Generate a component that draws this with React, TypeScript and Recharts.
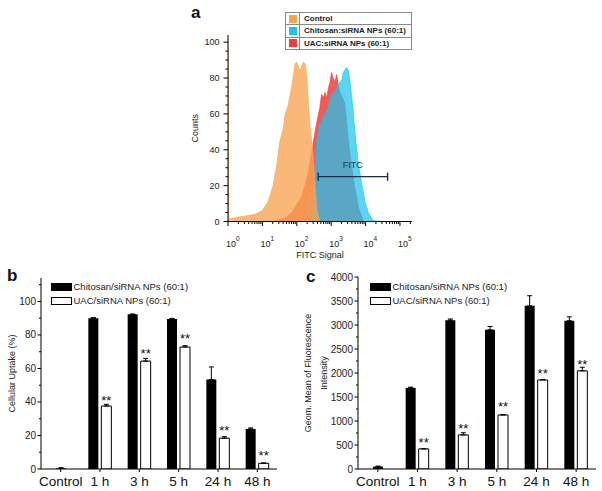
import {
  Area,
  AreaChart,
  Bar,
  BarChart,
  ErrorBar,
  Label,
  LabelList,
  Legend,
  ReferenceLine,
  XAxis,
  YAxis
} from 'recharts';

const FONT = 'Arial, "Liberation Sans", sans-serif';

// ---- panel a: FITC histograms, x in log10(FITC signal), y in counts
const histNames = ['Control', 'Chitosan:siRNA NPs (60:1)', 'UAC:siRNA NPs (60:1)'];
const histColors = ['#f7a452', '#1ec4ef', '#ee3e3e'];

const controlLog = [0, 0.02, 0.15, 0.49, 0.78, 0.99, 1.16, 1.31, 1.42, 1.51, 1.61, 1.66, 1.74, 1.85, 1.95, 2.0, 2.09, 2.19, 2.24, 2.29, 2.33, 2.38, 2.47, 2.53, 2.59, 2.67];
const controlCounts = [110, 1.5, 2, 3, 4, 6, 11, 20, 32, 45, 52, 60, 64, 75, 88, 89, 84, 89, 88, 82, 69, 54, 39, 21, 6, 0];

const chitosanLog = [2.43, 2.47, 2.53, 2.58, 2.67, 2.82, 2.92, 3.01, 3.11, 3.21, 3.31, 3.35, 3.45, 3.5, 3.55, 3.64, 3.69, 3.79, 3.89, 3.98, 4.08, 4.22, 4.47];
const chitosanCounts = [0, 11.7, 30, 45, 54, 60, 63.5, 71, 72, 76.6, 79, 83, 86, 84, 78, 62, 50, 32, 21, 11.7, 5, 0.5, 0];

const uacLog = [1.37, 1.66, 1.85, 2.14, 2.33, 2.53, 2.63, 2.67, 2.72, 2.77, 2.82, 2.87, 2.92, 2.97, 3.01, 3.06, 3.11, 3.16, 3.21, 3.26, 3.35, 3.4, 3.5, 3.6, 3.69, 3.79, 3.93, 4.0];
const uacCounts = [0, 2, 5, 13.5, 26.7, 50, 60, 63.5, 71, 69, 72, 69, 74.6, 78, 83, 80, 78, 82, 75, 72, 68, 65.6, 45, 30, 19, 8, 0.5, 0];

const fitcGate = [2.62, 4.64];
const fitcGateCount = 25;

const countTicks = Array.from({ length: 21 }, (_, i) => i * 5);
const logTicks: number[] = [];
for (let d = 0; d <= 5; d++) {
  logTicks.push(d);
  for (let k = 2; k <= 9; k++) {
    const v = d + Math.log10(k);
    if (v <= 5.35) logTicks.push(v);
  }
}

const toPoints = (xs: number[], ys: number[]) => xs.map((x, i) => ({ x, y: ys[i] }));
const controlHist = toPoints(controlLog, controlCounts);
const chitosanHist = toPoints(chitosanLog, chitosanCounts);
const uacHist = toPoints(uacLog, uacCounts);

// ---- panels b and c
const timepoints = ['Control', '1 h', '3 h', '5 h', '24 h', '48 h'];
const seriesNames = ['Chitosan/siRNA NPs (60:1)', 'UAC/siRNA NPs (60:1)'];

const controlUptake = [0.4, null, null, null, null, null];
const controlUptakeErr = [0.4, 0, 0, 0, 0, 0];
const chitosanUptake = [null, 90, 92.4, 89.6, 53.4, 23.9];
const chitosanUptakeErr = [0, 0.4, 0, 0.3, 7.5, 0.6];
const uacUptake = [null, 37.6, 64.4, 72.8, 18.4, 3.4];
const uacUptakeErr = [0, 1, 1.6, 0.8, 0.9, 0.2];

const controlMfi = [50, null, null, null, null, null];
const controlMfiErr = [10, 0, 0, 0, 0, 0];
const chitosanMfi = [null, 1690, 3100, 2900, 3400, 3090];
const chitosanMfiErr = [0, 15, 25, 70, 210, 80];
const uacMfi = [null, 420, 710, 1125, 1855, 2045];
const uacMfiErr = [0, 0, 45, 10, 10, 75];

const uptakeTicks = Array.from({ length: 12 }, (_, i) => i * 10);
const mfiTicks = Array.from({ length: 17 }, (_, i) => i * 250);

const uptakeRows = timepoints.map((cat, i) => ({
  cat,
  ctrl: controlUptake[i],
  ctrlErr: controlUptakeErr[i],
  chit: chitosanUptake[i],
  chitErr: chitosanUptakeErr[i],
  uac: uacUptake[i],
  uacErr: uacUptakeErr[i]
}));

const mfiRows = timepoints.map((cat, i) => ({
  cat,
  ctrl: controlMfi[i],
  ctrlErr: controlMfiErr[i],
  chit: chitosanMfi[i],
  chitErr: chitosanMfiErr[i],
  uac: uacMfi[i],
  uacErr: uacMfiErr[i]
}));

function LogTick({ x, y, payload }: any) {
  const v = payload.value;
  const major = Math.abs(v - Math.round(v)) < 1e-6;
  return (
    <g>
      <line x1={x} x2={x} y1={y} y2={y + (major ? 4.5 : 2.5)} stroke="#000" />
      {major && (
        <text x={x - 2} y={y + 25} fontSize={9} fill="#222" fontFamily={FONT}>
          10
          <tspan dy={-6} fontSize={6.5}>{Math.round(v)}</tspan>
        </text>
      )}
    </g>
  );
}

function CountTick({ x, y, payload }: any) {
  const major = payload.value % 20 === 0;
  return (
    <g>
      <line x1={x - (major ? 4.5 : 2.5)} x2={x} y1={y} y2={y} stroke="#000" />
      {major && (
        <text x={x - 8.5} y={y} dy={3.2} textAnchor="end" fontSize={9} fill="#222" fontFamily={FONT}>
          {payload.value}
        </text>
      )}
    </g>
  );
}

const makeValueTick = (step: number) =>
  function ValueTick({ x, y, payload }: any) {
    const major = payload.value % step === 0;
    return (
      <g>
        <line x1={x - (major ? 3.5 : 2)} x2={x} y1={y} y2={y} stroke="#000" />
        {major && (
          <text x={x - 5} y={y} dy={3.5} textAnchor="end" fontSize={10} fill="#222" fontFamily={FONT}>
            {payload.value}
          </text>
        )}
      </g>
    );
  };

const UptakeTick = makeValueTick(20);
const MfiTick = makeValueTick(500);

const makeStars = (errs: number[]) =>
  function Stars(props: any) {
    const vb = props.viewBox ?? props;
    const { x, y, width, height } = vb;
    const { value, index } = props;
    if (value == null || !value) return null;
    const pxPerUnit = Math.abs(height) / value;
    const top = y - (errs[index] ?? 0) * pxPerUnit;
    return (
      <text x={x + width / 2} y={top - 1.5} textAnchor="middle" fontSize={13} fill="#111" fontFamily={FONT}>
        **
      </text>
    );
  };

function HistLegend({ payload }: any) {
  const items = [...(payload ?? [])]
    .filter((e: any) => histNames.includes(e.value))
    .sort((a: any, b: any) => histNames.indexOf(a.value) - histNames.indexOf(b.value));
  return (
    <div style={{ width: 125, border: '1px solid #8a8a8a', background: '#fff', fontFamily: FONT, fontSize: 8, fontWeight: 700, color: '#222' }}>
      {items.map((e: any, i: number) => (
        <div key={e.value} style={{ display: 'flex', alignItems: 'center', height: 11.3, borderTop: i ? '1px solid #8a8a8a' : 'none' }}>
          <div style={{ width: 13, height: '100%', borderRight: '1px solid #8a8a8a', display: 'flex', alignItems: 'center', justifyContent: 'center' }}>
            <span style={{ width: 8, height: 8, background: histColors[histNames.indexOf(e.value)] }} />
          </div>
          <span style={{ paddingLeft: 4, whiteSpace: 'nowrap' }}>{e.value}</span>
        </div>
      ))}
    </div>
  );
}

function BarLegend({ payload }: any) {
  const items = (payload ?? []).filter((e: any) => seriesNames.includes(e.value));
  return (
    <div style={{ fontFamily: FONT, fontSize: 9.5, color: '#222' }}>
      {items.map((e: any) => (
        <div key={e.value} style={{ display: 'flex', alignItems: 'center', height: 14, whiteSpace: 'nowrap' }}>
          <span style={{ display: 'inline-block', width: 19, height: 6, background: e.color, border: '1px solid #000', marginRight: 1.5 }} />
          {e.value}
        </div>
      ))}
    </div>
  );
}

const letter = (left: number, top: number) => ({
  position: 'absolute' as const,
  left,
  top,
  fontFamily: FONT,
  fontWeight: 700,
  fontSize: 17,
  lineHeight: '20px',
  color: '#111'
});

function FlowPanel() {
  return (
    <AreaChart width={280} height={270} margin={{ top: 35, right: 18, left: 38, bottom: 11.5 }}>
      <XAxis
        type="number"
        dataKey="x"
        domain={[0, 5.35]}
        ticks={logTicks}
        interval={0}
        allowDataOverflow
        tick={<LogTick />}
        tickLine={false}
        tickSize={0}
        tickMargin={0}
        height={37}
        axisLine={{ stroke: '#000' }}
      >
        <Label value="FITC Signal" position="insideBottom" offset={1} fontSize={9} fill="#222" fontFamily={FONT} />
      </XAxis>
      <XAxis xAxisId="top" orientation="top" type="number" dataKey="x" domain={[0, 5.35]} height={0} tick={false} tickLine={false} axisLine={{ stroke: '#9a9a9a' }} />
      <YAxis
        type="number"
        domain={[0, 104]}
        ticks={countTicks}
        interval={0}
        allowDataOverflow
        tick={<CountTick />}
        tickLine={false}
        tickSize={0}
        tickMargin={0}
        width={40}
        axisLine={{ stroke: '#000' }}
      >
        <Label value="Counts" angle={-90} position="insideLeft" offset={7} fontSize={9} fill="#222" fontFamily={FONT} style={{ textAnchor: 'middle' }} />
      </YAxis>
      <YAxis yAxisId="right" orientation="right" domain={[0, 104]} width={0} tick={false} tickLine={false} axisLine={{ stroke: '#9a9a9a' }} />
      <Legend
        layout="vertical"
        align="center"
        verticalAlign="middle"
        wrapperStyle={{ left: 135, top: 12, width: 'auto' }}
        content={<HistLegend />}
      />
      <Area data={uacHist} dataKey="y" name={histNames[2]} type="linear" fill={histColors[2]} fillOpacity={0.85} stroke={histColors[2]} strokeWidth={0.6} isAnimationActive={false} />
      <Area data={chitosanHist} dataKey="y" name={histNames[1]} type="linear" fill={histColors[1]} fillOpacity={0.72} stroke={histColors[1]} strokeWidth={0.6} isAnimationActive={false} />
      <Area data={controlHist} dataKey="y" name={histNames[0]} type="linear" fill={histColors[0]} fillOpacity={0.78} stroke={histColors[0]} strokeWidth={0.6} isAnimationActive={false} />
      <ReferenceLine
        segment={[{ x: fitcGate[0], y: fitcGateCount }, { x: fitcGate[1], y: fitcGateCount }]}
        stroke="#1d2b44"
        strokeWidth={1.4}
      >
        <Label value="FITC" position="top" offset={9} fontSize={9} fill="#1d3552" fontFamily={FONT} />
      </ReferenceLine>
      <ReferenceLine segment={[{ x: fitcGate[0], y: fitcGateCount - 2.3 }, { x: fitcGate[0], y: fitcGateCount + 2.3 }]} stroke="#1d2b44" strokeWidth={1.4} />
      <ReferenceLine segment={[{ x: fitcGate[1], y: fitcGateCount - 2.3 }, { x: fitcGate[1], y: fitcGateCount + 2.3 }]} stroke="#1d2b44" strokeWidth={1.4} />
    </AreaChart>
  );
}

function GroupedBars({
  rows,
  domainMax,
  ticks,
  Tick,
  yWidth,
  margin,
  legendLeft,
  starErrs,
  children
}: any) {
  return (
    <BarChart width={margin.w} height={231} data={rows} barSize={10} barGap={3} margin={{ top: margin.top, right: margin.right, left: margin.left, bottom: 0 }}>
      <XAxis
        dataKey="cat"
        interval={0}
        height={22}
        tickSize={3}
        tickMargin={4}
        tick={{ fontSize: 13.5, fill: '#111', fontFamily: FONT }}
        tickLine={{ stroke: '#000' }}
        axisLine={{ stroke: '#000' }}
      />
      <XAxis xAxisId="ctrl" dataKey="cat" hide />
      <XAxis xAxisId="top" orientation="top" dataKey="cat" height={0} tick={false} tickLine={false} axisLine={{ stroke: '#000' }} />
      <YAxis
        domain={[0, domainMax]}
        ticks={ticks}
        interval={0}
        allowDataOverflow
        tick={<Tick />}
        tickLine={false}
        tickSize={0}
        tickMargin={0}
        width={yWidth}
        axisLine={{ stroke: '#000' }}
      >
        {children}
      </YAxis>
      <YAxis yAxisId="right" orientation="right" domain={[0, domainMax]} width={0} tick={false} tickLine={false} axisLine={{ stroke: '#000' }} />
      <Legend
        layout="vertical"
        align="center"
        verticalAlign="middle"
        wrapperStyle={{ left: legendLeft, top: 19.5, width: 'auto' }}
        content={<BarLegend />}
      />
      <Bar xAxisId="ctrl" dataKey="ctrl" fill="#000" legendType="none" isAnimationActive={false}>
        <ErrorBar dataKey={(d: any) => [0, d.ctrlErr ?? 0]} width={2.5} stroke="#000" strokeWidth={1} />
      </Bar>
      <Bar dataKey="chit" name={seriesNames[0]} fill="#000" isAnimationActive={false}>
        <ErrorBar dataKey={(d: any) => [0, d.chitErr ?? 0]} width={2.5} stroke="#000" strokeWidth={1} />
      </Bar>
      <Bar dataKey="uac" name={seriesNames[1]} fill="#fff" stroke="#000" strokeWidth={1} isAnimationActive={false}>
        <ErrorBar dataKey={(d: any) => [0, d.uacErr ?? 0]} width={2.5} stroke="#000" strokeWidth={1} />
        <LabelList dataKey="uac" content={makeStars(starErrs)} />
      </Bar>
    </BarChart>
  );
}

export default function App() {
  return (
    <div style={{ position: 'absolute', left: 0, top: 0, width: 602, height: 491, background: '#fff', overflow: 'hidden' }}>
      <div style={{ position: 'absolute', left: 150, top: 0 }}>
        <FlowPanel />
      </div>
      <div style={{ position: 'absolute', left: 0, top: 260 }}>
        <GroupedBars
          rows={uptakeRows}
          domainMax={114}
          ticks={uptakeTicks}
          Tick={UptakeTick}
          yWidth={36}
          margin={{ w: 300, top: 18, right: 23, left: 5 }}
          legendLeft={51}
          starErrs={uacUptakeErr}
        >
          <Label value="Cellular Uptake (%)" angle={-90} position="insideLeft" offset={7} fontSize={9} fill="#222" fontFamily={FONT} style={{ textAnchor: 'middle' }} />
        </GroupedBars>
      </div>
      <div style={{ position: 'absolute', left: 300, top: 260 }}>
        <GroupedBars
          rows={mfiRows}
          domainMax={4000}
          ticks={mfiTicks}
          Tick={MfiTick}
          yWidth={58}
          margin={{ w: 302, top: 17, right: 6, left: 0 }}
          legendLeft={70}
          starErrs={uacMfiErr}
        >
          <Label value="Geom. Mean of Fluorescence" angle={-90} position="insideLeft" offset={8} fontSize={9} fill="#222" fontFamily={FONT} style={{ textAnchor: 'middle' }} />
          <Label value="Intensity" angle={-90} position="insideLeft" offset={24} fontSize={9} fill="#222" fontFamily={FONT} style={{ textAnchor: 'middle' }} />
        </GroupedBars>
      </div>
      <div style={letter(191, 3)}>a</div>
      <div style={letter(7, 266)}>b</div>
      <div style={letter(306, 267)}>c</div>
    </div>
  );
}
